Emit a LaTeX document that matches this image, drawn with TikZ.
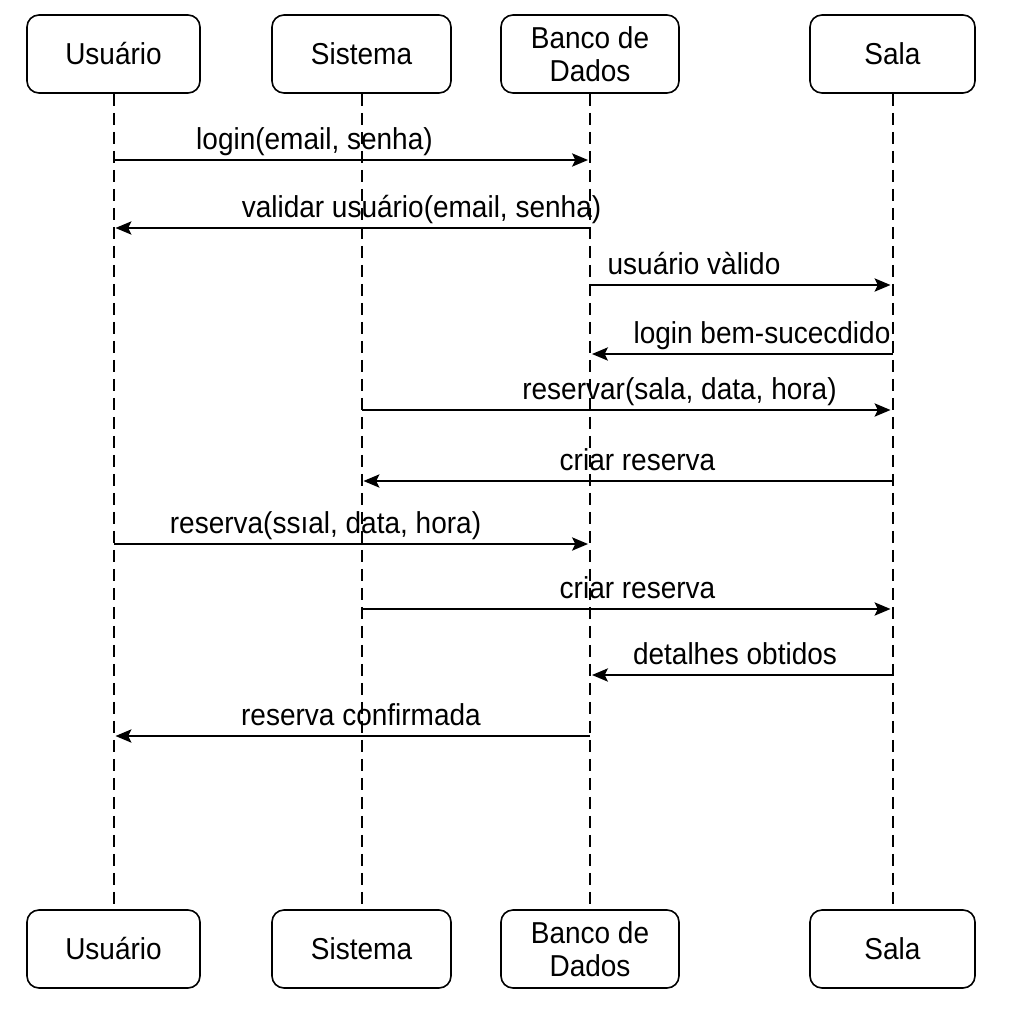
\documentclass[tikz,border=0pt]{standalone}
\usepackage{fontspec}
\setmainfont{Liberation Sans}
\usetikzlibrary{arrows.meta}
\newcommand{\TT}[1]{\scalebox{1}[1.08]{#1}}
\begin{document}
\begin{tikzpicture}[x=0.75pt,y=-0.75pt,
  actor/.style={draw, line width=1.2pt, rounded corners=9pt, align=center,
    font=\fontsize{21}{25}\selectfont, inner sep=0pt},
  life/.style={line width=1.5pt, dash pattern=on 9pt off 5.25pt},
  msg/.style={line width=1.2pt, -{Stealth[length=12pt,width=10pt,inset=2.5pt]}},
  lbl/.style={anchor=base, inner sep=0pt, font=\fontsize{21}{25}\selectfont}]
\useasboundingbox (0,0) rectangle (1024,1024);
% top actors
\node[actor, minimum width=129.75pt, minimum height=58.5pt] (u1) at (113.5,54) {\TT{Usuário}};
\node[actor, minimum width=134.25pt, minimum height=58.5pt] (s1) at (361.5,54) {\TT{Sistema}};
\node[actor, minimum width=133.5pt, minimum height=58.5pt] (b1) at (590,54) {\TT{Banco de}\\\TT{Dados}};
\node[actor, minimum width=123.75pt, minimum height=58.5pt] (a1) at (892.5,54) {\TT{Sala}};
% bottom actors
\node[actor, minimum width=129.75pt, minimum height=58.5pt] (u2) at (113.5,949) {\TT{Usuário}};
\node[actor, minimum width=134.25pt, minimum height=58.5pt] (s2) at (361.5,949) {\TT{Sistema}};
\node[actor, minimum width=133.5pt, minimum height=58.5pt] (b2) at (590,949) {\TT{Banco de}\\\TT{Dados}};
\node[actor, minimum width=123.75pt, minimum height=58.5pt] (a2) at (892.5,949) {\TT{Sala}};
% lifelines
\draw[life] (u1.south) -- (u2.north);
\draw[life] (s1.south) -- (s2.north);
\draw[life] (b1.south) -- (b2.north);
\draw[life] (a1.south) -- (a2.north);
% message end points on lifelines
\coordinate (m1a) at (113.5,160); \coordinate (m1b) at (588,160);
\coordinate (m2a) at (590,228);   \coordinate (m2b) at (115.5,228);
\coordinate (m3a) at (590,285);   \coordinate (m3b) at (890.5,285);
\coordinate (m4a) at (892.5,354); \coordinate (m4b) at (592,354);
\coordinate (m5a) at (361.5,410); \coordinate (m5b) at (890.5,410);
\coordinate (m6a) at (892.5,481); \coordinate (m6b) at (363.5,481);
\coordinate (m7a) at (113.5,544); \coordinate (m7b) at (588,544);
\coordinate (m8a) at (361.5,609); \coordinate (m8b) at (890.5,609);
\coordinate (m9a) at (892.5,675); \coordinate (m9b) at (592,675);
\coordinate (m10a) at (590,736);  \coordinate (m10b) at (115.5,736);
% messages
\draw[msg] (m1a) -- (m1b);
\draw[msg] (m2a) -- (m2b);
\draw[msg] (m3a) -- (m3b);
\draw[msg] (m4a) -- (m4b);
\draw[msg] (m5a) -- (m5b);
\draw[msg] (m6a) -- (m6b);
\draw[msg] (m7a) -- (m7b);
\draw[msg] (m8a) -- (m8b);
\draw[msg] (m9a) -- (m9b);
\draw[msg] (m10a) -- (m10b);
% labels
\node[lbl] (l1) at (314.5,149) {\TT{login(email, senha)}};
\node[lbl] (l2) at (421.5,217) {\TT{validar usuário(email, senha)}};
\node[lbl] (l3) at (694,274) {\TT{usuário vàlido}};
\node[lbl] (l4) at (762,343) {\TT{login bem-sucecdido}};
\node[lbl] (l5) at (679.5,399) {\TT{reservar(sala, data, hora)}};
\node[lbl] (l6) at (637.5,470) {\TT{criar reserva}};
\node[lbl] (l7) at (325.5,533) {\TT{reserva(ssıal, data, hora)}};
\node[lbl] (l8) at (637.5,598) {\TT{criar reserva}};
\node[lbl] (l9) at (735,664) {\TT{detalhes obtidos}};
\node[lbl] (l10) at (361,725) {\TT{reserva confirmada}};
\end{tikzpicture}
\end{document}
